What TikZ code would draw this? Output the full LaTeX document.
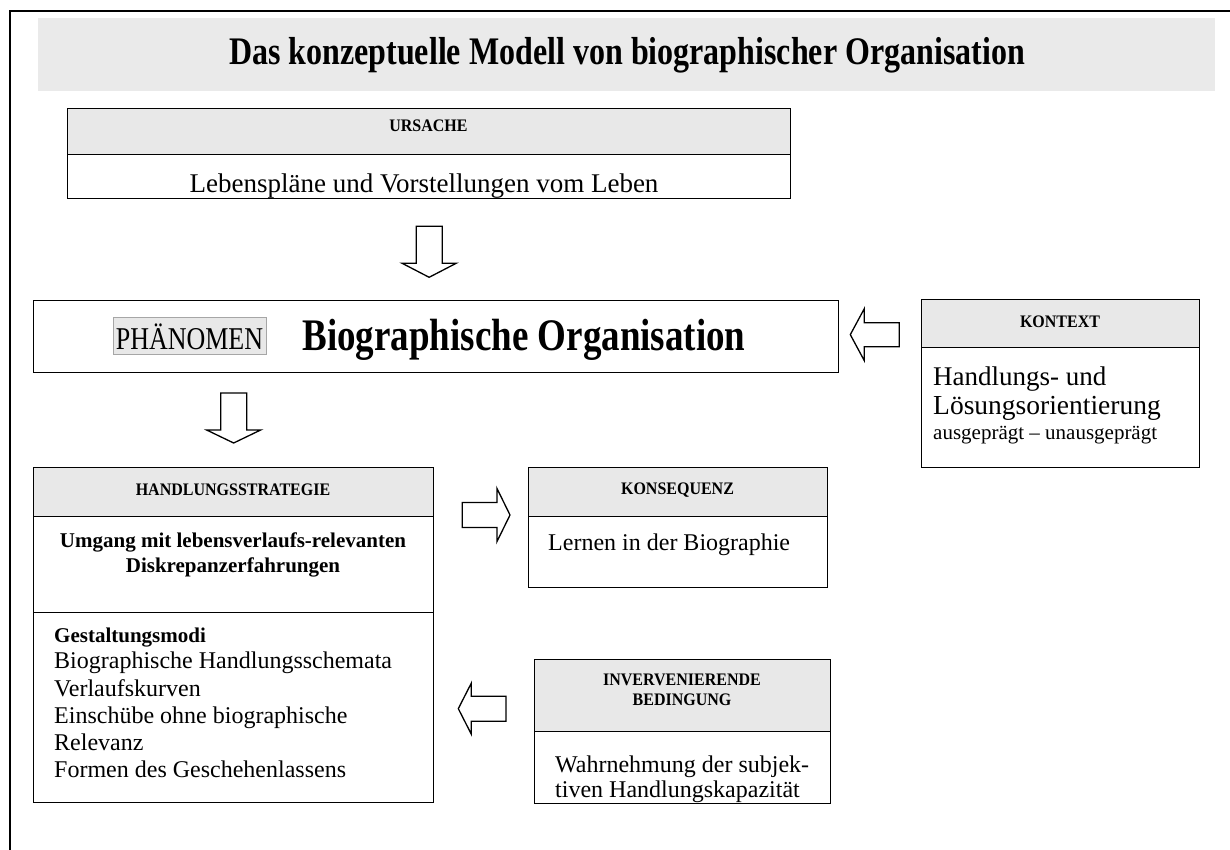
\documentclass[tikz,border=0pt]{standalone}
\usepackage{fontspec}
\usepackage{graphicx}
\setmainfont{Liberation Serif}
\usetikzlibrary{calc}
\definecolor{hdrgray}{HTML}{E8E8E8}
\definecolor{bandgray}{HTML}{EAEAEA}
\newcommand{\vs}[1]{\scalebox{1}[1.22]{#1}}
\newcommand{\hvs}[1]{\scalebox{1}[1.1]{#1}}
\newcommand{\blockarr}[5]{%
  \coordinate (ba-h) at ($(#2)!#5!(#1)$);
  \draw[blockarrow] ($(#1)!#3!90:(#2)$) -- ($(ba-h)!#3!90:(#2)$) -- ($(ba-h)!#4!90:(#2)$) -- (#2) -- ($(ba-h)!#4!-90:(#2)$) -- ($(ba-h)!#3!-90:(#2)$) -- ($(#1)!#3!-90:(#2)$) -- cycle;
}
\tikzset{
  box/.style={draw=black, line width=1.3pt, fill=white, inner sep=0pt, anchor=north west},
  hdrbox/.style={box, fill=hdrgray},
  hdrtxt/.style={font=\bfseries\fontsize{16}{18}\selectfont, inner sep=0pt, anchor=base},
  bodytxt/.style={font=\fontsize{24}{27}\selectfont, inner sep=0pt, anchor=base west},
  boldtxt/.style={font=\bfseries\fontsize{21}{25}\selectfont, inner sep=0pt},
  blockarrow/.style={draw=black, line width=1.3pt, fill=white, line join=miter},
}
\begin{document}
\begin{tikzpicture}[x=1pt,y=-1pt]
\useasboundingbox (0,0) rectangle (1230,850);
% outer frame
\coordinate (fbl) at (10,850);
\coordinate (ftl) at (10,11);
\coordinate (ftr) at (1230,11);
\draw[line width=2pt] (fbl) -- (ftl) -- (ftr);
% title band
\node[fill=bandgray, inner sep=0pt, anchor=north west, minimum width=1177pt, minimum height=73pt] (band) at (38,18) {};
\node[font=\bfseries\fontsize{32}{36}\selectfont, inner sep=0pt, anchor=base] (title) at (627,65) {\vs{Das konzeptuelle Modell von biographischer Organisation}};
% URSACHE
\node[hdrbox, minimum width=723pt, minimum height=46pt] (urshead) at (67,108) {};
\node[box, minimum width=723pt, minimum height=44pt] (ursbody) at (67,154) {};
\node[hdrtxt] (urstxt) at (428.5,132) {\hvs{URSACHE}};
\begin{scope}
\clip ([xshift=0.7pt,yshift=-0.7pt]ursbody.north west) rectangle ([xshift=-0.7pt,yshift=0.7pt]ursbody.south east);
\node[font=\fontsize{27}{30}\selectfont, inner sep=0pt, anchor=base] (urstext) at (424,193) {Lebenspläne und Vorstellungen vom Leben};
\end{scope}
% PHAENOMEN
\node[box, minimum width=805pt, minimum height=72pt] (phen) at (33,300) {};
\node[fill=hdrgray, draw=black!35, line width=0.4pt, inner sep=0pt, anchor=north west, minimum width=153pt, minimum height=37pt] (phenbg) at (113,317) {};
\node[font=\fontsize{26}{30}\selectfont, inner sep=0pt, anchor=base] (phenlabel) at (189.5,349) {\vs{PHÄNOMEN}};
\node[font=\bfseries\fontsize{37}{42}\selectfont, inner sep=0pt, anchor=base] (phentitle) at (524,350) {\vs{Biographische Organisation}};
% KONTEXT
\node[hdrbox, minimum width=278pt, minimum height=48pt] (kontexthead) at (921,299) {};
\node[box, minimum width=278pt, minimum height=120pt] (kontextbody) at (921,347) {};
\node[hdrtxt] (kontexttxt) at (1060,327) {\hvs{KONTEXT}};
\node[font=\fontsize{27}{30}\selectfont, inner sep=0pt, anchor=base west] (k1) at (933,385) {Handlungs- und};
\node[font=\fontsize{27.5}{30}\selectfont, inner sep=0pt, anchor=base west] (k2) at (933,414) {Lösungsorientierung};
\node[font=\fontsize{21}{24}\selectfont, inner sep=0pt, anchor=base west] (k3) at (933,439) {ausgeprägt – unausgeprägt};
% HANDLUNGSSTRATEGIE
\node[hdrbox, minimum width=400pt, minimum height=49pt] (hshead) at (33,467) {};
\node[box, minimum width=400pt, minimum height=96pt] (hsmid) at (33,516) {};
\node[box, minimum width=400pt, minimum height=190pt] (hslow) at (33,612) {};
\node[hdrtxt] (hstxt) at (233,495) {\hvs{HANDLUNGSSTRATEGIE}};
\node[boldtxt, anchor=base] (hs1) at (233,547) {Umgang mit lebensverlaufs-relevanten};
\node[boldtxt, anchor=base] (hs2) at (233,572) {Diskrepanzerfahrungen};
\node[boldtxt, anchor=base west] (g0) at (54,642) {Gestaltungsmodi};
\node[bodytxt] (g1) at (54,668) {Biographische Handlungsschemata};
\node[bodytxt] (g2) at (54,696) {Verlaufskurven};
\node[bodytxt] (g3) at (54,723) {Einschübe ohne biographische};
\node[bodytxt] (g4) at (54,750) {Relevanz};
\node[bodytxt] (g5) at (54,777) {Formen des Geschehenlassens};
% KONSEQUENZ
\node[hdrbox, minimum width=299pt, minimum height=49pt] (konshead) at (528,467) {};
\node[box, minimum width=299pt, minimum height=71pt] (konsbody) at (528,516) {};
\node[hdrtxt] (konstxt) at (677.5,494) {\hvs{KONSEQUENZ}};
\node[bodytxt] (kons1) at (548,550) {Lernen in der Biographie};
% INTERVENIERENDE BEDINGUNG
\node[hdrbox, minimum width=296pt, minimum height=72pt] (ivhead) at (534,659) {};
\node[box, minimum width=296pt, minimum height=72pt] (ivbody) at (534,731) {};
\node[hdrtxt] (ivtxt1) at (682,685) {\hvs{INVERVENIERENDE}};
\node[hdrtxt] (ivtxt2) at (682,705) {\hvs{BEDINGUNG}};
\begin{scope}
\clip ([xshift=0.7pt,yshift=-0.7pt]ivbody.north west) rectangle ([xshift=-0.7pt,yshift=0.7pt]ivbody.south east);
\node[bodytxt] (iv1) at (555,772) {Wahrnehmung der subjek-};
\node[bodytxt] (iv2) at (555,797) {tiven Handlungskapazität};
\end{scope}
% block arrows
\coordinate (a1s) at ($(ursbody.south)+(0,27)$);
\coordinate (a1t) at ($(a1s)+(0,51)$);
\blockarr{a1s}{a1t}{13pt}{27pt}{14pt}
\coordinate (a2s) at ($(hshead.north)+(0,-74)$);
\coordinate (a2t) at ($(hshead.north)+(0,-24)$);
\blockarr{a2s}{a2t}{13pt}{27pt}{13pt}
\coordinate (a3s) at ($(hsmid.north east)+(28,-1)$);
\coordinate (a3t) at ($(konsbody.north west)+(-18,-1)$);
\blockarr{a3s}{a3t}{12.5pt}{26.5pt}{13pt}
\coordinate (a4s) at ($(phen.east)+(60,-2)$);
\coordinate (a4t) at ($(phen.east)+(11,-2)$);
\blockarr{a4s}{a4t}{12pt}{26pt}{14pt}
\coordinate (a5s) at ($(ivhead.west)+(-28,13)$);
\coordinate (a5t) at ($(hslow.east)+(24,1)$);
\blockarr{a5s}{a5t}{12.5pt}{25.5pt}{13pt}
\end{tikzpicture}
\end{document}
